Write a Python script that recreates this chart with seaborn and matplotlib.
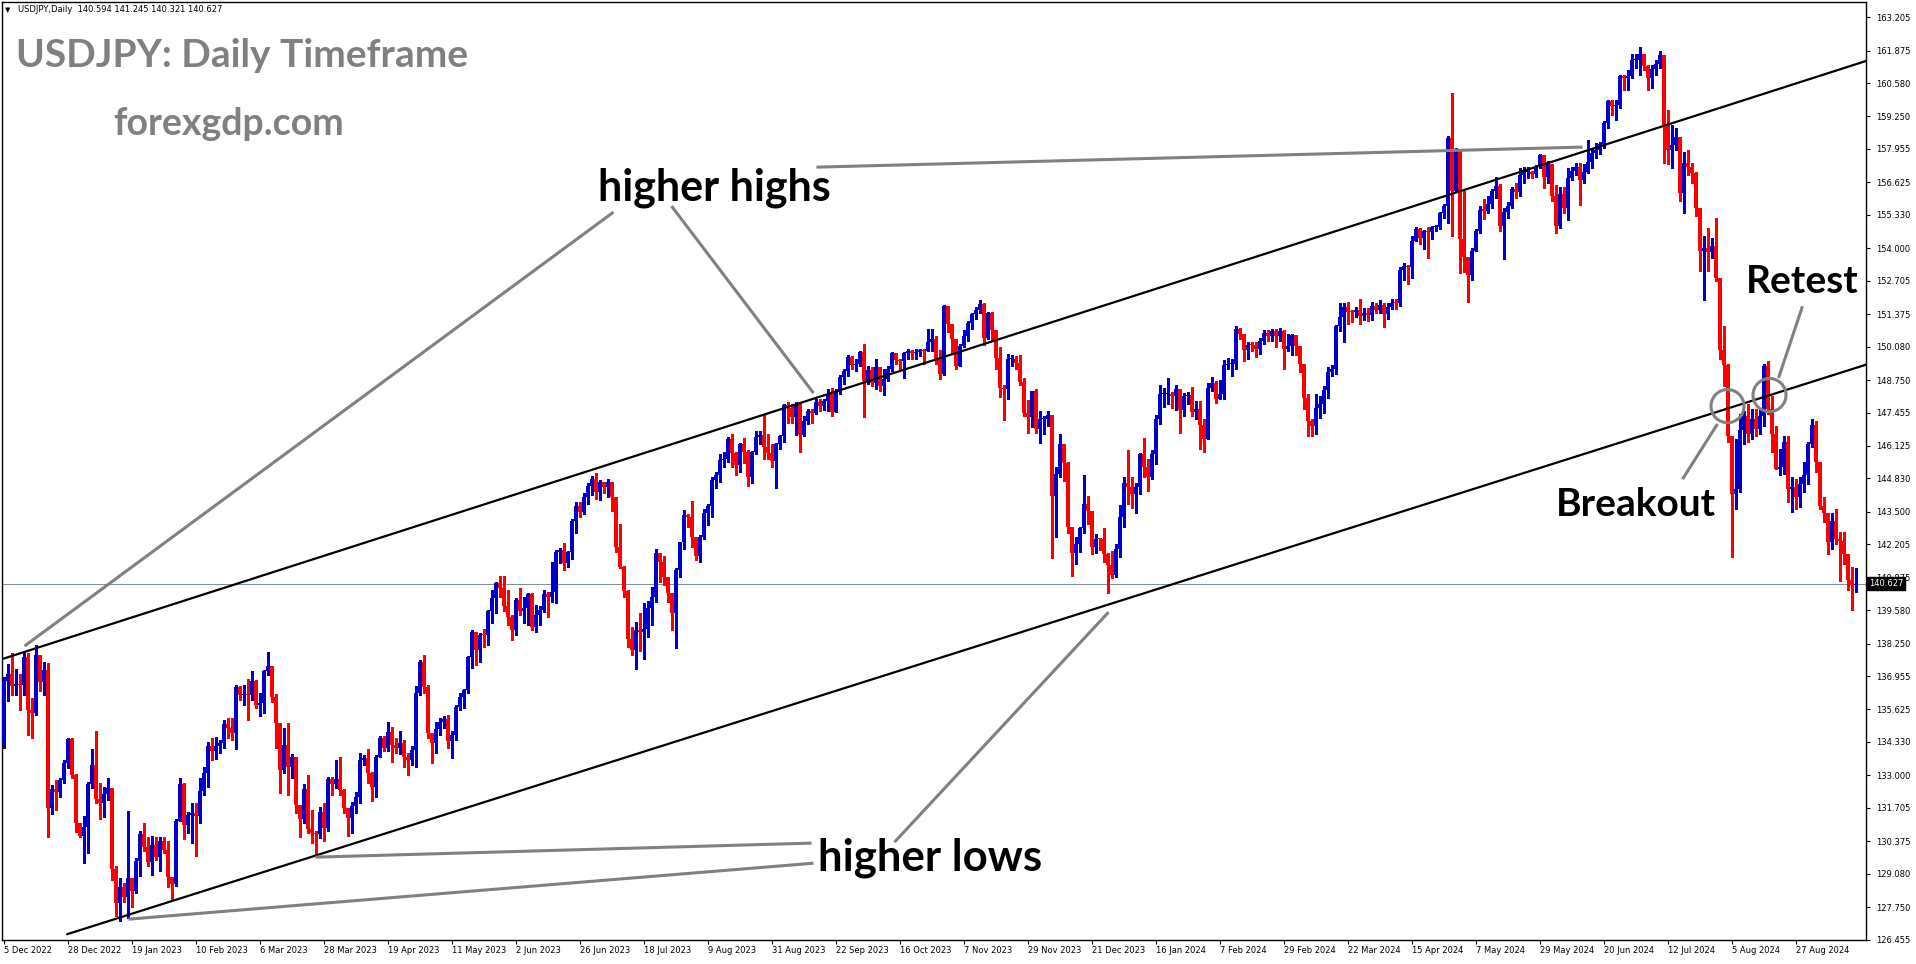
import numpy as np
import pandas as pd
import matplotlib
matplotlib.use("Agg")
import matplotlib.pyplot as plt
from matplotlib.patches import Ellipse
import seaborn as sns

# ---- data (USDJPY daily, 5 Dec 2022 .. 17 Sep 2024) ----
symbol = "USDJPY,Daily"
first_open = 134.30
last_open = 140.594

closes = [
    136.75, 137.05, 136.55, 136.65, 136.60, 137.70, 135.60, 135.50, 137.80, 136.70,
    137.20, 131.70, 132.45, 132.35, 132.80, 133.50, 134.45, 133.00, 131.10, 130.60,
    130.95, 132.65, 133.40, 132.05, 131.90, 132.25, 132.50, 129.27, 127.90, 128.55,
    128.15, 128.93, 128.40, 129.60, 130.66, 130.16, 129.56, 130.22, 129.74, 130.40,
    130.03, 128.94, 128.67, 131.20, 132.64, 131.02, 131.42, 131.50, 131.40, 132.38,
    133.08, 134.17, 133.95, 134.15, 134.30, 135.05, 134.90, 134.70, 136.50, 136.20,
    136.25, 136.20, 136.77, 135.80, 135.90, 137.17, 137.35, 136.14, 135.07, 133.20,
    134.20, 133.35, 133.75, 131.82, 131.25, 132.44, 130.85, 130.70, 130.65, 131.55,
    130.90, 132.85, 132.65, 132.85, 132.40, 131.70, 131.30, 131.78, 132.15, 133.60,
    133.70, 133.10, 132.55, 133.75, 134.50, 134.07, 134.74, 134.20, 134.10, 134.27,
    133.73, 133.60, 134.00, 136.30, 137.50, 136.53, 134.70, 134.27, 134.83, 135.12,
    135.23, 134.35, 134.60, 135.74, 136.13, 136.40, 137.73, 138.72, 137.98, 138.60,
    138.58, 139.55, 140.05, 140.65, 140.45, 139.74, 139.30, 138.79, 139.98, 139.56,
    139.65, 140.22, 138.92, 139.40, 139.60, 140.22, 140.09, 140.30, 141.90, 141.99,
    141.45, 141.90, 143.15, 143.73, 143.50, 144.10, 144.53, 144.80, 144.30, 144.70,
    144.47, 144.70, 144.10, 142.10, 141.30, 140.35, 138.45, 138.00, 138.80, 138.70,
    138.85, 139.65, 140.10, 141.84, 141.50, 140.90, 140.25, 139.45, 141.20, 142.30,
    143.37, 143.30, 142.50, 141.73, 142.50, 143.44, 143.75, 144.76, 144.96, 145.56,
    145.60, 146.41, 145.85, 145.36, 146.22, 145.89, 144.87, 145.90, 146.49, 146.55,
    146.10, 145.85, 145.53, 146.20, 146.50, 147.75, 147.65, 147.26, 147.78, 146.56,
    147.12, 147.52, 147.45, 147.88, 147.70, 147.92, 148.20, 147.48, 148.28, 148.88,
    149.12, 149.65, 149.35, 149.37, 149.87, 148.72, 149.14, 148.64, 149.25, 148.51,
    148.80, 149.20, 149.81, 149.55, 149.52, 149.83, 149.90, 149.83, 149.88, 149.93,
    149.92, 150.27, 150.40, 149.60, 149.00, 151.70, 150.98, 150.40, 149.30, 150.10,
    150.50, 151.03, 151.38, 151.54, 151.78, 150.41, 151.43, 150.74, 149.62, 148.42,
    148.40, 149.57, 149.57, 149.44, 148.68, 147.42, 147.26, 148.30, 146.78, 147.20,
    147.20, 147.35, 144.13, 145.00, 146.20, 145.45, 142.90, 141.87, 142.20, 142.85,
    143.83, 143.55, 142.08, 142.41, 142.40, 141.82, 141.38, 140.98, 142.00, 143.30,
    144.63, 144.50, 144.20, 144.50, 145.80, 145.30, 144.90, 145.80, 147.18, 148.20,
    148.20, 148.20, 148.10, 148.38, 147.55, 148.10, 148.15, 147.48, 147.60, 146.95,
    146.38, 148.45, 148.64, 147.98, 148.20, 149.35, 149.38, 149.38, 150.80, 150.60,
    149.94, 150.15, 150.14, 149.97, 150.30, 150.61, 150.50, 150.71, 150.50, 150.70,
    149.97, 150.10, 150.54, 150.10, 149.40, 148.05, 147.10, 146.93, 147.65, 147.79,
    148.37, 149.08, 149.20, 150.90, 151.27, 151.67, 151.47, 151.45, 151.55, 151.30,
    151.40, 151.35, 151.69, 151.55, 151.73, 151.37, 151.67, 151.83, 151.82, 153.15,
    153.30, 153.25, 154.29, 154.75, 154.40, 154.70, 154.63, 154.85, 154.85, 155.40,
    155.68, 158.38, 156.30, 157.90, 154.35, 153.65, 152.93, 153.90, 154.70, 155.53,
    155.50, 155.78, 156.30, 156.47, 154.88, 155.45, 155.67, 156.34, 156.26, 156.91,
    157.04, 157.05, 156.95, 157.24, 157.70, 156.82, 157.35, 156.07, 154.90, 156.15,
    155.62, 156.78, 157.08, 157.22, 156.72, 157.05, 157.44, 157.78, 157.90, 158.15,
    159.00, 159.85, 159.65, 159.70, 160.85, 160.80, 160.85, 161.50, 161.50, 161.75,
    161.25, 160.80, 161.15, 161.32, 161.70, 158.90, 157.90, 158.10, 158.45, 156.20,
    157.40, 157.25, 157.00, 155.60, 153.90, 154.00, 153.85, 154.10, 152.80, 149.95,
    149.35, 146.50, 144.20, 144.40, 146.75, 147.30, 146.60, 147.20, 146.80, 147.30,
    149.30, 147.60, 146.60, 145.20, 145.30, 146.30, 144.40, 144.50, 144.10, 144.60,
    144.95, 146.20, 146.95, 145.50, 143.75, 143.45, 142.30, 143.15, 142.40, 142.35,
    141.80, 140.80, 140.60, 140.627,
]

highs = [
    136.90, 137.45, 137.86, 137.25, 137.05, 137.93, 137.86, 136.10, 138.20, 137.80,
    137.50, 137.46, 132.60, 132.80, 132.90, 133.60, 134.50, 134.50, 133.05, 131.10,
    131.40, 132.75, 134.05, 134.77, 132.70, 132.55, 132.90, 132.40, 129.40, 128.90,
    128.70, 131.58, 128.90, 129.70, 130.80, 131.10, 130.55, 130.60, 130.55, 130.55,
    130.55, 130.40, 128.93, 131.25, 132.90, 132.70, 131.55, 131.90, 131.90, 132.90,
    133.35, 134.34, 134.47, 134.54, 134.40, 135.20, 135.30, 135.30, 136.60, 136.55,
    136.60, 136.85, 137.15, 136.80, 136.30, 137.20, 137.90, 137.35, 136.25, 135.10,
    134.90, 135.10, 133.85, 133.75, 131.80, 132.65, 133.00, 131.60, 130.80, 131.75,
    131.90, 132.95, 132.95, 133.60, 133.75, 132.45, 131.70, 131.95, 132.35, 133.90,
    133.80, 134.03, 133.15, 133.80, 134.55, 134.55, 135.13, 134.93, 134.50, 134.75,
    134.40, 133.90, 134.15, 136.56, 137.60, 137.80, 136.60, 134.70, 135.13, 135.27,
    135.35, 135.40, 134.78, 135.80, 136.29, 136.43, 137.75, 138.79, 138.72, 138.66,
    138.85, 139.60, 140.38, 140.71, 140.94, 140.94, 140.40, 139.40, 140.05, 140.45,
    140.12, 140.28, 140.25, 139.78, 139.74, 140.40, 140.30, 141.50, 141.99, 142.04,
    142.24, 141.95, 143.20, 143.90, 143.90, 144.23, 144.66, 144.92, 145.06, 144.76,
    144.70, 144.79, 144.66, 144.10, 143.00, 141.35, 140.40, 138.90, 139.10, 139.45,
    139.85, 139.95, 140.50, 142.00, 141.80, 141.73, 140.90, 140.25, 141.25, 142.30,
    143.57, 143.43, 143.94, 142.50, 142.57, 143.60, 143.80, 144.90, 145.10, 145.82,
    145.89, 146.49, 146.60, 145.90, 146.25, 146.42, 145.95, 145.93, 146.70, 146.70,
    147.35, 146.60, 146.20, 146.25, 146.55, 147.80, 147.88, 147.80, 147.88, 147.80,
    147.30, 147.60, 147.60, 148.00, 147.98, 148.00, 148.40, 148.45, 148.41, 148.95,
    149.20, 149.74, 149.70, 149.60, 149.90, 150.18, 149.30, 149.25, 149.57, 149.17,
    149.20, 149.30, 149.88, 149.80, 149.60, 149.88, 149.97, 149.95, 150.00, 150.00,
    150.00, 150.80, 150.80, 150.50, 149.94, 151.73, 151.70, 151.00, 150.40, 150.20,
    150.74, 151.10, 151.43, 151.64, 151.93, 151.83, 151.47, 151.47, 150.74, 150.05,
    148.55, 149.78, 149.74, 149.70, 149.74, 148.85, 147.95, 148.30, 148.40, 147.50,
    147.30, 147.50, 147.35, 145.27, 146.60, 146.20, 145.50, 142.90, 142.48, 142.90,
    144.96, 144.13, 143.55, 142.60, 142.45, 142.86, 141.85, 141.95, 142.20, 143.77,
    144.90, 145.98, 144.90, 144.65, 145.85, 146.42, 145.60, 145.96, 147.35, 148.55,
    148.42, 148.85, 148.26, 148.55, 148.30, 148.24, 148.27, 148.48, 147.92, 147.92,
    147.18, 148.64, 148.88, 148.72, 148.75, 149.54, 149.61, 149.60, 150.90, 150.84,
    150.60, 150.25, 150.25, 150.27, 150.41, 150.74, 150.74, 150.80, 150.80, 150.84,
    150.73, 150.60, 150.60, 150.54, 150.12, 149.35, 148.20, 147.20, 148.20, 148.10,
    148.50, 149.27, 149.35, 150.93, 151.83, 151.83, 151.86, 151.55, 151.66, 151.98,
    151.60, 151.60, 151.86, 151.82, 151.93, 151.80, 151.80, 151.96, 151.98, 153.26,
    153.40, 153.32, 154.48, 154.85, 154.80, 154.72, 154.83, 154.90, 154.92, 155.45,
    155.78, 158.47, 160.20, 157.98, 157.95, 156.30, 153.60, 153.99, 154.75, 155.68,
    155.98, 156.10, 156.35, 156.85, 156.55, 155.60, 155.85, 156.45, 156.60, 157.18,
    157.24, 157.22, 157.08, 157.30, 157.77, 157.70, 157.46, 157.22, 156.50, 156.45,
    156.45, 157.18, 157.24, 157.40, 157.40, 157.35, 158.30, 157.98, 158.20, 158.25,
    159.07, 159.92, 159.92, 159.90, 160.90, 160.90, 161.10, 161.73, 161.75, 162.00,
    161.70, 161.30, 161.30, 161.50, 161.85, 161.70, 159.50, 158.90, 158.80, 158.45,
    157.85, 157.90, 157.40, 157.05, 155.60, 154.50, 154.80, 154.40, 155.20, 152.80,
    150.90, 149.40, 146.50, 146.40, 147.40, 147.50, 147.80, 147.60, 147.60, 147.60,
    149.40, 149.50, 148.10, 146.90, 146.00, 146.50, 146.50, 144.90, 144.80, 144.90,
    145.50, 146.30, 147.20, 147.10, 145.50, 144.10, 143.45, 143.45, 143.60, 142.70,
    142.70, 141.80, 141.30, 141.245,
]

lows = [
    134.10, 135.95, 136.20, 136.20, 135.60, 136.20, 134.60, 134.50, 135.40, 136.35,
    136.20, 130.56, 131.45, 131.60, 132.15, 132.70, 133.30, 132.90, 130.75, 130.55,
    129.50, 129.90, 132.50, 131.90, 131.25, 131.35, 132.00, 128.85, 127.40, 127.20,
    127.97, 127.33, 127.74, 128.30, 129.00, 130.00, 129.40, 129.03, 129.63, 129.20,
    129.90, 128.57, 128.03, 128.60, 131.20, 130.45, 130.70, 130.30, 129.80, 131.10,
    132.20, 132.55, 133.60, 133.65, 133.90, 134.10, 134.50, 134.40, 134.05, 136.00,
    135.80, 135.20, 136.00, 135.70, 135.35, 135.50, 137.00, 135.93, 134.10, 132.30,
    133.10, 132.20, 132.90, 131.50, 130.55, 131.10, 130.70, 130.30, 129.83, 130.50,
    130.40, 130.80, 132.20, 132.50, 132.20, 131.50, 130.60, 130.70, 131.50, 131.90,
    133.40, 132.70, 131.98, 132.15, 133.75, 133.95, 133.95, 133.55, 133.90, 133.85,
    133.35, 133.00, 133.40, 133.35, 136.20, 136.30, 134.50, 133.50, 133.88, 134.60,
    134.90, 134.08, 133.70, 134.40, 135.60, 135.67, 136.27, 137.26, 137.40, 137.50,
    138.10, 138.20, 139.05, 139.45, 140.10, 139.56, 139.00, 138.39, 138.59, 139.40,
    139.08, 138.99, 138.79, 138.70, 139.00, 139.50, 139.32, 139.90, 139.85, 141.45,
    141.20, 141.30, 141.60, 142.67, 143.30, 143.40, 143.80, 144.17, 144.00, 143.97,
    144.23, 144.10, 143.54, 141.90, 141.25, 140.10, 138.13, 137.80, 137.25, 137.95,
    137.65, 138.50, 139.00, 139.90, 140.70, 140.60, 139.90, 138.78, 138.07, 140.90,
    142.00, 142.90, 142.10, 141.57, 141.50, 142.40, 142.97, 143.30, 144.43, 144.70,
    145.27, 145.50, 145.30, 144.96, 145.10, 145.45, 144.52, 144.65, 145.80, 146.20,
    145.60, 145.60, 145.30, 144.43, 146.00, 146.30, 147.02, 147.02, 146.55, 145.90,
    146.50, 147.00, 147.05, 147.40, 147.50, 147.55, 147.50, 147.31, 147.50, 148.20,
    148.60, 148.90, 149.20, 149.10, 149.30, 147.29, 148.60, 148.50, 148.40, 148.30,
    148.15, 148.70, 149.10, 149.40, 149.20, 148.82, 149.60, 149.60, 149.60, 149.70,
    149.40, 149.90, 149.90, 149.40, 148.80, 148.95, 150.67, 149.84, 149.17, 149.30,
    150.05, 150.30, 150.80, 151.20, 151.40, 150.14, 150.40, 150.34, 149.17, 148.06,
    147.15, 147.98, 149.30, 149.17, 148.55, 147.30, 146.65, 146.86, 146.65, 146.23,
    146.60, 146.90, 141.64, 142.50, 144.90, 144.74, 142.64, 140.94, 141.42, 141.90,
    142.64, 143.00, 141.80, 141.87, 141.96, 141.50, 140.25, 140.85, 140.90, 141.70,
    142.90, 143.80, 143.67, 143.44, 144.20, 144.90, 144.34, 144.80, 145.40, 147.00,
    147.66, 147.80, 147.62, 147.55, 146.65, 147.30, 147.80, 147.30, 147.20, 146.00,
    145.90, 146.38, 148.30, 147.85, 148.00, 148.00, 149.20, 148.90, 149.20, 150.40,
    149.50, 149.60, 149.90, 149.68, 149.80, 150.20, 150.30, 150.30, 150.05, 150.30,
    149.20, 149.90, 149.74, 149.74, 149.08, 147.60, 146.50, 146.50, 146.59, 147.22,
    147.44, 148.05, 148.90, 149.00, 150.70, 150.27, 151.00, 151.07, 151.27, 151.00,
    151.16, 151.10, 151.16, 151.43, 151.43, 150.85, 151.20, 151.56, 151.56, 151.70,
    152.75, 152.56, 152.83, 154.30, 154.16, 153.95, 153.60, 154.35, 154.70, 154.75,
    155.20, 155.00, 154.50, 156.30, 153.00, 153.06, 151.86, 152.75, 153.90, 154.60,
    155.18, 155.40, 155.60, 156.00, 154.70, 153.59, 155.20, 155.60, 156.00, 156.10,
    156.60, 156.80, 156.80, 156.85, 157.20, 156.38, 156.58, 155.90, 154.60, 154.80,
    155.40, 155.12, 156.70, 156.90, 155.72, 156.58, 157.00, 157.20, 157.60, 157.75,
    158.00, 158.80, 159.30, 159.10, 159.60, 160.30, 160.30, 160.80, 161.20, 160.90,
    161.10, 160.30, 160.40, 160.90, 161.20, 157.40, 157.36, 157.20, 157.90, 155.90,
    155.40, 156.90, 156.60, 155.30, 153.10, 151.95, 153.10, 153.60, 152.70, 149.60,
    148.50, 146.30, 141.70, 143.60, 144.30, 146.20, 146.30, 146.40, 146.50, 146.60,
    146.90, 147.40, 145.90, 145.20, 144.95, 145.00, 143.90, 143.50, 143.60, 143.70,
    144.30, 144.60, 146.10, 145.10, 143.60, 143.10, 141.80, 142.00, 142.20, 140.75,
    141.40, 140.40, 139.60, 140.321,
]

# right-hand price scale and bottom date scale (one label every 16 bars)
price_ticks = [163.205, 161.875, 160.580, 159.250, 157.955, 156.625, 155.330, 154.000,
               152.705, 151.375, 150.080, 148.750, 147.455, 146.125, 144.830, 143.500,
               142.205, 140.875, 139.580, 138.250, 136.955, 135.625, 134.330, 133.000,
               131.705, 130.375, 129.080, 127.750, 126.455]
date_labels = ["5 Dec 2022", "28 Dec 2022", "19 Jan 2023", "10 Feb 2023", "6 Mar 2023",
               "28 Mar 2023", "19 Apr 2023", "11 May 2023", "2 Jun 2023", "26 Jun 2023",
               "18 Jul 2023", "9 Aug 2023", "31 Aug 2023", "22 Sep 2023", "16 Oct 2023",
               "7 Nov 2023", "29 Nov 2023", "21 Dec 2023", "16 Jan 2024", "7 Feb 2024",
               "29 Feb 2024", "22 Mar 2024", "15 Apr 2024", "7 May 2024", "29 May 2024",
               "20 Jun 2024", "12 Jul 2024", "5 Aug 2024", "27 Aug 2024"]
bars_per_label = 16

# drawn trend lines (bar index, price)
upper_channel = ([-0.375, 465.625], [137.63, 161.46])
lower_channel = ([15.9, 465.625], [126.67, 149.36])
# grey pointer lines
pointers = [
    ([152.5, 5.25], [155.44, 138.15]),     # higher highs -> first high
    ([167.0, 202.5], [155.68, 148.23]),    # higher highs -> channel top
    ([203.25, 394.75], [157.23, 158.03]),  # higher highs -> April 2024 high
    ([202.0, 78.0], [130.30, 129.74]),     # higher lows -> March 2023 low
    ([202.5, 31.25], [129.50, 127.27]),    # higher lows -> January 2023 low
    ([222.75, 276.25], [130.34, 139.50]),  # higher lows -> December 2023 low
    ([419.75, 428.5], [144.80, 147.00]),   # breakout
    ([443.75, 449.75], [148.83, 151.69]),  # retest
]
circles = [(431.0, 147.71), (441.5, 148.15)]

# ---- build frame ----
df = pd.DataFrame({"close": closes, "high": highs, "low": lows})
df["open"] = [first_open] + closes[:-1]
df.loc[df.index[-1], "open"] = last_open
df["bar"] = np.arange(len(df))

sns.set_theme(style="white")
plt.rcParams["font.family"] = ["DejaVu Sans"]

W, H = 1916, 964
fig = plt.figure(figsize=(W / 100, H / 100), dpi=100)
fig.patch.set_facecolor("white")
ax = fig.add_axes([2 / W, 24 / H, 1864 / W, 938 / H])
ax.set_facecolor("white")
# 4 px per bar; bar centres on half pixels so 3 px bodies snap cleanly
ax.set_xlim(-0.375, 465.625)
ax.set_ylim(126.44, 163.81)

BULL, BEAR = "#0000CD", "#FF0000"
up = df["close"] >= df["open"]
colors = np.where(up, BULL, BEAR)
body_top = np.maximum(df["open"], df["close"])
body_low = np.minimum(df["open"], df["close"])
body_h = np.maximum(body_top - body_low, 0.045)

ax.vlines(df["bar"], np.minimum(df["low"], body_low), np.maximum(df["high"], body_top),
          colors=colors, linewidth=0.75, antialiased=False, zorder=2)
ax.bar(df["bar"], body_h, bottom=body_low, width=0.75, color=colors,
       linewidth=0, antialiased=False, zorder=3)

# last price line
last = df.iloc[-1]
ax.axhline(last["close"], color="#8090A0", linewidth=0.75, zorder=1)

# channel lines
for xs, ys in (upper_channel, lower_channel):
    ax.plot(xs, ys, color="black", linewidth=1.6, zorder=4)

for xs, ys in pointers:
    ax.plot(xs, ys, color="#808080", linewidth=2.2, zorder=5, solid_capstyle="butt")
for cx, cy in circles:
    ax.add_patch(Ellipse((cx, cy), width=8.25, height=1.32, fill=False,
                         edgecolor="#808080", linewidth=2.2, zorder=5))

# axes styling
for s in ax.spines.values():
    s.set_visible(True)
    s.set_color("black")
    s.set_linewidth(1.0)
ax.grid(False)

ax.yaxis.tick_right()
ax.set_yticks(price_ticks)
ax.set_yticklabels([f"{p:.3f}" for p in price_ticks])
ax.tick_params(axis="y", which="major", right=True, left=False, length=3, width=0.8,
               pad=4, labelsize=6, colors="black")

xt = np.arange(len(date_labels)) * bars_per_label
ax.set_xticks(xt)
ax.set_xticklabels(date_labels, ha="left")
ax.tick_params(axis="x", which="major", bottom=True, length=3, width=0.8, pad=1.5,
               labelsize=6, colors="black")

# price tag on the scale
ax.text(1.0015, last["close"], f"{last['close']:.3f}", transform=ax.get_yaxis_transform(),
        ha="left", va="center", fontsize=6, color="white", zorder=10, clip_on=False,
        bbox=dict(boxstyle="square,pad=0.25", fc="black", ec="black"))

# texts (pixel positions from the screenshot)
def fx(px):
    return px / W

def fy(py):
    return 1 - py / H

fig.text(fx(5), fy(10), "\u25BC", fontsize=5, ha="left", va="center", color="black")
fig.text(fx(18), fy(10),
         f"{symbol}  {last['open']:.3f} {last['high']:.3f} {last['low']:.3f} {last['close']:.3f}",
         fontsize=6, ha="left", va="center", color="black")

bold = dict(family=["Lato", "DejaVu Sans"], fontweight="bold")
fig.text(fx(16), fy(67), "USDJPY: Daily Timeframe", fontsize=28, color="#808080",
         ha="left", va="baseline", **bold)
fig.text(fx(113), fy(135), "forexgdp.com", fontsize=27, color="#808080",
         ha="left", va="baseline", **bold)
fig.text(fx(598), fy(201), "higher highs", fontsize=31, color="black",
         ha="left", va="baseline", **bold)
fig.text(fx(818), fy(871), "higher lows", fontsize=31.5, color="black",
         ha="left", va="baseline", **bold)
fig.text(fx(1556), fy(516), "Breakout", fontsize=28, color="black",
         ha="left", va="baseline", **bold)
fig.text(fx(1746), fy(293), "Retest", fontsize=28, color="black",
         ha="left", va="baseline", **bold)

fig.savefig("out.png", dpi=100, facecolor="white")
